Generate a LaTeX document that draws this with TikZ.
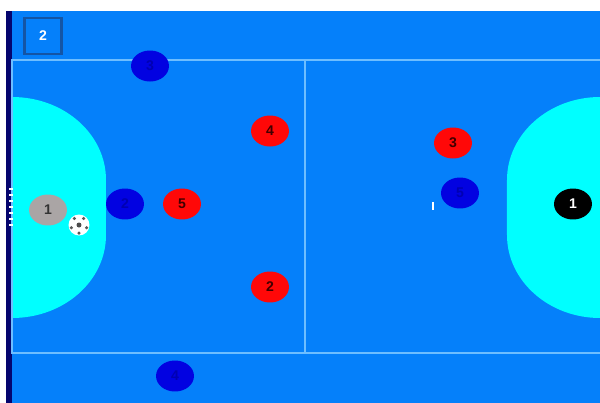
\documentclass[tikz,border=0pt]{standalone}
\usepackage{fontspec}
\setmainfont{Liberation Sans}
\usetikzlibrary{shapes,positioning,calc}
\definecolor{courtblue}{RGB}{5,128,250}
\definecolor{areacyan}{RGB}{0,255,255}
\definecolor{linelight}{RGB}{110,190,255}
\definecolor{teamred}{RGB}{255,8,8}
\definecolor{teamblue}{RGB}{2,2,225}
\definecolor{keepergrey}{RGB}{170,165,165}
\definecolor{postnavy}{RGB}{5,5,110}
\definecolor{badgeedge}{RGB}{20,85,165}

\begin{document}
\begin{tikzpicture}[
    x=0.02cm, y=-0.02cm,
    player/.style={draw=none, ellipse, minimum width=0.76cm, minimum height=0.62cm, inner sep=0pt, font=\bfseries\footnotesize},
    redplayer/.style={player, fill=teamred, text=black!75!red},
    blueplayer/.style={player, fill=teamblue, text=black!30!blue},
    courtline/.style={draw=linelight, line width=0.7pt},
]
    \useasboundingbox (0,0) rectangle (600,403);
    % hall and court
    \fill[white] (0,0) rectangle (600,403);
    \fill[courtblue] (6,11) rectangle (600,403);
    \fill[postnavy] (6,11) rectangle (12,403);
    % penalty areas
    \fill[areacyan] (12,97) .. controls (64,97) and (106,134) .. (106,180) -- (106,235)
        .. controls (106,281) and (64,318) .. (12,318) -- cycle;
    \fill[areacyan] (600,97) .. controls (549,97) and (507,134) .. (507,180) -- (507,235)
        .. controls (507,281) and (549,318) .. (600,318) -- cycle;
    % lines
    \draw[courtline] (600,60) -- (12,60) -- (12,353) -- (600,353);
    \draw[courtline] (305,60) -- (305,353);
    % goal net
    \foreach \y in {188,194,...,224} {
        \fill[white] (9,\y) rectangle (13,\y+2);
    }
    % badge
    \node[draw=badgeedge, line width=1.5pt, fill=courtblue, minimum width=0.74cm, minimum height=0.72cm, inner sep=0pt, font=\bfseries\footnotesize, text=white] (badge) at (43,36) {2};
    % keepers
    \node[player, fill=keepergrey, text=black!80] (keeperA) at (48,210) {1};
    \node[player, fill=black, text=white] (keeperB) at (573,204) {1};
    % red team
    \node[redplayer] (redB) at (270,287) {2};
    \node[redplayer] (redC) at (453,143) {3};
    \node[redplayer] (redD) at (270,131) {4};
    \node[redplayer] (redE) at (182,204) {5};
    % blue team
    \node[blueplayer] (blueB) at (125,204) {2};
    \node[blueplayer] (blueC) at (150,66) {3};
    \node[blueplayer] (blueD) at (175,376) {4};
    \node[blueplayer] (blueE) at (460,193) {5};
    % ball
    \node[circle, fill=white, minimum size=0.42cm, inner sep=0pt] (ball) at (79,225) {};
    \fill[black!70] (ball.center) circle (0.05cm);
    \foreach \a in {20,90,160,235,305} {
        \fill[black!65] (ball.center) ++(\a:8) circle (0.035cm);
    }
    % mark by the blue player
    \fill[white] (432.5,202) rectangle (434.5,210);
\end{tikzpicture}
\end{document}
